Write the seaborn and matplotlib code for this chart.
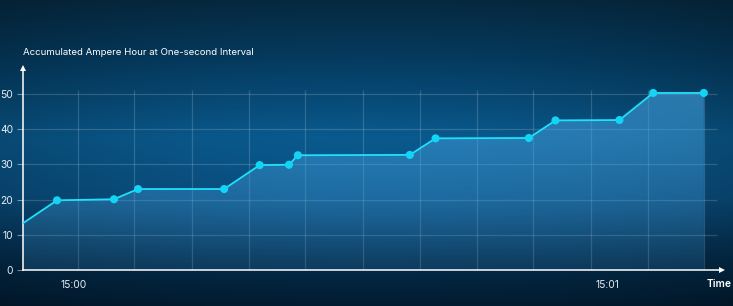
import numpy as np
import pandas as pd
import matplotlib
matplotlib.use("Agg")
import matplotlib.pyplot as plt
import seaborn as sns
from matplotlib.colors import to_rgb

# ---- data (seconds relative to 15:00, accumulated Ah) ----
seconds = [-5.74, -1.91, 4.50, 7.21, 16.9, 20.9, 24.2, 25.2, 37.8, 40.7, 51.2, 54.2, 61.4, 65.2, 70.9]
amp_hours = [13.3, 19.8, 20.1, 23.0, 23.0, 29.8, 29.9, 32.6, 32.7, 37.4, 37.5, 42.5, 42.6, 50.3, 50.3]
x_tick_pos = [0, 60]
x_tick_labels = ["15:00", "15:01"]
y_ticks = [0, 10, 20, 30, 40, 50]
grid_x = [0.45, 6.76, 13.3, 19.7, 26.0, 32.5, 39.0, 45.4, 51.7, 58.2, 64.6, 70.9]
title = "Accumulated Ampere Hour at One-second Interval"
x_name = "Time"

df = pd.DataFrame({"t": seconds, "ah": amp_hours})

sns.set_theme(style="white")
plt.rcParams["font.family"] = ["Inter", "DejaVu Sans"]

W, H = 733, 306
fig = plt.figure(figsize=(W / 100, H / 100), dpi=100)

# ---- background gradient ----
bg = fig.add_axes([0, 0, 1, 1], zorder=-10)
bg.set_axis_off()
stops_y = [0.0, 0.2, 0.45, 0.65, 0.85, 1.0]
stops_c = ["#062940", "#053c61", "#0a5a8e", "#0a4f80", "#042c4b", "#021c31"]
ny, nx = 200, 200
yy = np.linspace(0, 1, ny)
cols = np.array([to_rgb(c) for c in stops_c])
prof = np.stack([np.interp(yy, stops_y, cols[:, k]) for k in range(3)], axis=1)
xx = np.linspace(-1, 1, nx)
vign = 1 - 0.18 * xx ** 2
img = prof[:, None, :] * vign[None, :, None]
bg.imshow(img, aspect="auto", extent=[0, 1, 0, 1], origin="upper")
bg.set_xlim(0, 1)
bg.set_ylim(0, 1)

# ---- main axes ----
x0, x1 = 23, 722
y_bot, y_top = 270, 68
ax = fig.add_axes([x0 / W, (H - y_bot) / H, (x1 - x0) / W, (y_bot - y_top) / H])
ax.set_facecolor("none")
pxs = (607 - 74) / 60.0
xmin = (x0 - 74) / pxs
xmax = (x1 - 74) / pxs
ax.set_xlim(xmin, xmax)
ymax = (y_bot - y_top) / 3.52
ax.set_ylim(0, ymax)

# grid
grid_right = (717 - 74) / pxs
ax.hlines(y_ticks[1:], xmin, grid_right, colors=(1, 1, 1, 0.16), lw=0.9, zorder=1)
ax.vlines(grid_x, 0, (y_bot - 90) / 3.52, colors=(1, 1, 1, 0.16), lw=0.9, zorder=1)

# gradient fill under the line
poly = ax.fill_between(df["t"], df["ah"], 0, facecolor="none", edgecolor="none")
fill_img = np.zeros((100, 2, 4))
a = np.linspace(0.58, 0.16, 100)
fill_img[:, :, 0] = 0.28
fill_img[:, :, 1] = 0.65
fill_img[:, :, 2] = 0.90
fill_img[:, :, 3] = a[:, None]
im = ax.imshow(fill_img, aspect="auto", extent=[xmin, xmax, 0, 51], origin="upper", zorder=2)
im.set_clip_path(poly.get_paths()[0], transform=ax.transData)
ax.set_xlim(xmin, xmax)
ax.set_ylim(0, ymax)

# line and markers
line_color = "#1fe0fb"
sns.lineplot(data=df, x="t", y="ah", ax=ax, color=line_color, lw=1.3, zorder=4)
sns.scatterplot(data=df.iloc[1:], x="t", y="ah", ax=ax, color="#14d4f6", s=34,
                edgecolor="none", zorder=5)

# spines/ticks
for s in ["top", "right"]:
    ax.spines[s].set_visible(False)
for s in ["left", "bottom"]:
    ax.spines[s].set_color("white")
    ax.spines[s].set_linewidth(1.1)
ax.set_yticks(y_ticks)
ax.set_yticklabels([str(v) for v in y_ticks])
ax.set_xticks(x_tick_pos)
ax.set_xticklabels(x_tick_labels)
ax.tick_params(axis="y", length=4, width=0.8, color=(1, 1, 1, 0.45), pad=3,
               labelcolor="#e6eef5", labelsize=7.4, left=True)
ax.tick_params(axis="x", length=0, pad=7, labelcolor="#e6eef5", labelsize=7.4)
ax.set_xlabel("")
ax.set_ylabel("")

# arrows
ax.plot([0], [1], marker="^", ms=5, color="white", transform=ax.transAxes, clip_on=False,
        markeredgewidth=0)
ax.plot([1], [0], marker=">", ms=5, color="white", transform=ax.transAxes, clip_on=False,
        markeredgewidth=0)

# texts
fig.text(23 / W, 1 - 52 / H, title, color="white", fontsize=6.95, va="center", ha="left")
fig.text(719 / W, 1 - 284 / H, x_name, color="white", fontsize=7.4, va="center", ha="center",
         fontweight="semibold")

fig.savefig("out.png", dpi=100)
